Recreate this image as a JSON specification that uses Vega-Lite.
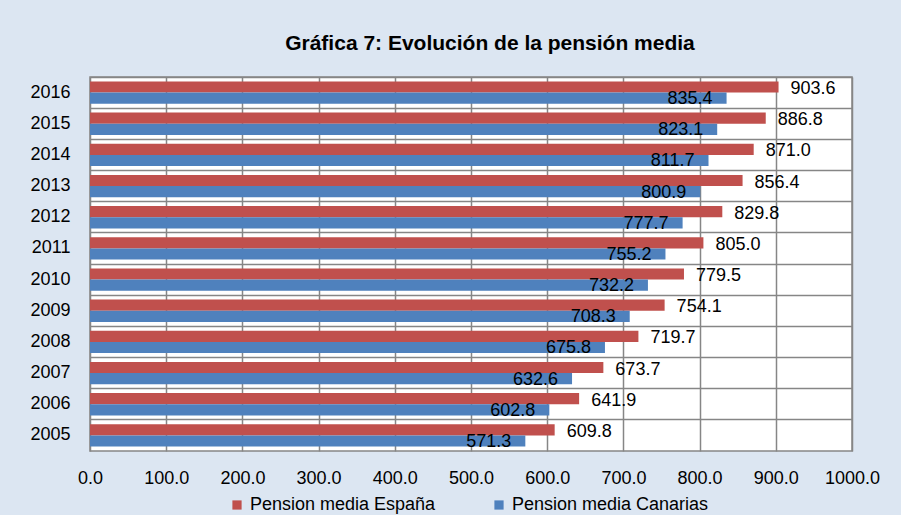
{
  "$schema": "https://vega.github.io/schema/vega-lite/v6.json",
  "width": 762,
  "height": 374,
  "autosize": {"type": "none"},
  "padding": {"left": 90, "top": 77, "right": 49, "bottom": 64},
  "background": "#dce6f2",
  "title": {
    "text": "Gráfica 7: Evolución de la pensión media",
    "font": "Liberation Sans",
    "fontSize": 21,
    "fontWeight": "bold",
    "color": "#000000",
    "anchor": "middle",
    "dx": 19,
    "offset": 23
  },
  "config": {
    "view": {"stroke": "#868686", "strokeWidth": 1.5, "fill": "#ffffff"},
    "font": "Liberation Sans"
  },
  "data": {
    "values": [
      {"year": "2016", "serie": "Pension media España", "valor": 903.6},
      {"year": "2016", "serie": "Pension media Canarias", "valor": 835.4},
      {"year": "2015", "serie": "Pension media España", "valor": 886.8},
      {"year": "2015", "serie": "Pension media Canarias", "valor": 823.1},
      {"year": "2014", "serie": "Pension media España", "valor": 871.0},
      {"year": "2014", "serie": "Pension media Canarias", "valor": 811.7},
      {"year": "2013", "serie": "Pension media España", "valor": 856.4},
      {"year": "2013", "serie": "Pension media Canarias", "valor": 800.9},
      {"year": "2012", "serie": "Pension media España", "valor": 829.8},
      {"year": "2012", "serie": "Pension media Canarias", "valor": 777.7},
      {"year": "2011", "serie": "Pension media España", "valor": 805.0},
      {"year": "2011", "serie": "Pension media Canarias", "valor": 755.2},
      {"year": "2010", "serie": "Pension media España", "valor": 779.5},
      {"year": "2010", "serie": "Pension media Canarias", "valor": 732.2},
      {"year": "2009", "serie": "Pension media España", "valor": 754.1},
      {"year": "2009", "serie": "Pension media Canarias", "valor": 708.3},
      {"year": "2008", "serie": "Pension media España", "valor": 719.7},
      {"year": "2008", "serie": "Pension media Canarias", "valor": 675.8},
      {"year": "2007", "serie": "Pension media España", "valor": 673.7},
      {"year": "2007", "serie": "Pension media Canarias", "valor": 632.6},
      {"year": "2006", "serie": "Pension media España", "valor": 641.9},
      {"year": "2006", "serie": "Pension media Canarias", "valor": 602.8},
      {"year": "2005", "serie": "Pension media España", "valor": 609.8},
      {"year": "2005", "serie": "Pension media Canarias", "valor": 571.3}
    ]
  },
  "encoding": {
    "y": {
      "field": "year",
      "type": "nominal",
      "sort": "descending",
      "scale": {"paddingInner": 0, "paddingOuter": 0},
      "axis": {
        "title": null,
        "bandPosition": 0,
        "grid": true,
        "gridColor": "#868686",
        "gridWidth": 1.5,
        "ticks": false,
        "domain": false,
        "labelFontSize": 18,
        "labelColor": "#000000",
        "labelPadding": 20,
        "labelBaseline": "middle"
      }
    },
    "yOffset": {
      "field": "serie",
      "type": "nominal",
      "sort": ["Pension media España", "Pension media Canarias"],
      "scale": {"paddingOuter": 0.4, "paddingInner": 0}
    },
    "x": {
      "field": "valor",
      "type": "quantitative",
      "scale": {"domain": [0, 1000], "nice": false},
      "axis": {
        "title": null,
        "values": [0, 100, 200, 300, 400, 500, 600, 700, 800, 900, 1000],
        "format": ".1f",
        "grid": true,
        "gridColor": "#868686",
        "gridWidth": 1.5,
        "ticks": false,
        "domain": false,
        "labelOverlap": false,
        "labelFlush": false,
        "labelFontSize": 18,
        "labelColor": "#000000",
        "labelPadding": 18
      }
    }
  },
  "layer": [
    {
      "mark": {"type": "bar"},
      "encoding": {
        "color": {
          "field": "serie",
          "type": "nominal",
          "sort": ["Pension media España", "Pension media Canarias"],
          "scale": {"domain": ["Pension media España", "Pension media Canarias"], "range": ["#c0504d", "#4f81bd"]},
          "legend": {
            "title": null,
            "orient": "none",
            "legendX": 138,
            "legendY": 419,
            "direction": "horizontal",
            "symbolType": "square",
            "symbolSize": 85,
            "symbolStrokeWidth": 0,
            "labelFontSize": 18,
            "labelLimit": 400,
            "labelColor": "#000000",
            "columnPadding": 54
          }
        }
      }
    },
    {
      "transform": [{"filter": "datum.serie == 'Pension media España'"}],
      "mark": {"type": "text", "align": "left", "baseline": "middle", "dx": 12, "dy": 2, "fontSize": 18, "color": "#000000"},
      "encoding": {"text": {"field": "valor", "type": "quantitative", "format": ".1f"}}
    },
    {
      "transform": [{"filter": "datum.serie == 'Pension media Canarias'"}],
      "mark": {"type": "text", "align": "right", "baseline": "middle", "dx": -14, "dy": 1, "fontSize": 18, "color": "#000000"},
      "encoding": {"text": {"field": "valor", "type": "quantitative", "format": ".1f"}}
    }
  ]
}
